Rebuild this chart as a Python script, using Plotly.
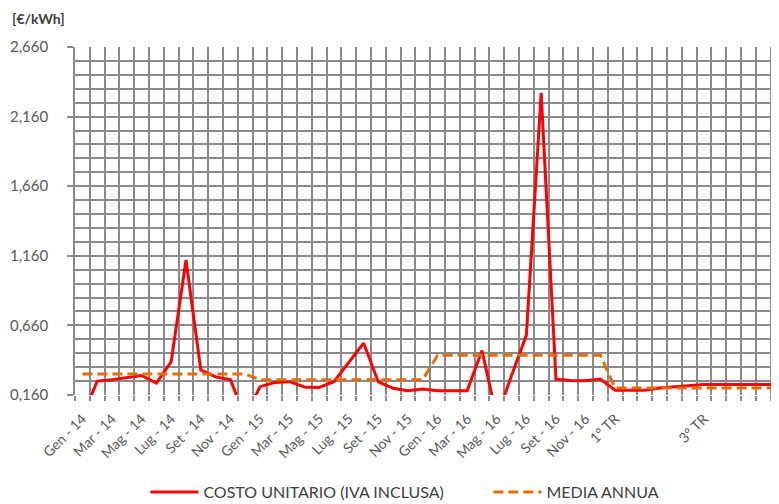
import plotly.graph_objects as go

months = ["Gen", "Feb", "Mar", "Apr", "Mag", "Giu", "Lug", "Ago", "Set", "Ott", "Nov", "Dic"]
categories = [f"{m} - {y}" for y in ("14", "15", "16") for m in months] + [
    "1° TR", "", "", "2° TR", "", "", "3° TR", "", "", "4° TR", "", ""]

costo_unitario = [
    0.00, 0.26, 0.27, 0.285, 0.30, 0.245, 0.40, 1.13, 0.34, 0.29, 0.27, 0.00,
    0.22, 0.25, 0.256, 0.218, 0.214, 0.256, 0.394, 0.533, 0.254, 0.208, 0.19, 0.203,
    0.19, 0.19, 0.19, 0.48, 0.00, 0.30, 0.59, 2.33, 0.273, 0.265, 0.262, 0.275,
    0.195, 0.195, 0.195, 0.21, 0.218, 0.225, 0.235, 0.235, 0.235, 0.235, 0.235, 0.235,
]
media_annua = [0.31] * 12 + [0.27] * 12 + [0.445] * 12 + [0.21] * 12

y_ticks = [0.16, 0.66, 1.16, 1.66, 2.16, 2.66]

x = list(range(len(categories)))
FONT = "Lato"
GRID = "#8a8a8a"
GW = 1.6

fig = go.Figure()
fig.add_trace(go.Scatter(
    x=x, y=costo_unitario, mode="lines", name="COSTO UNITARIO (IVA INCLUSA)",
    line=dict(color="#FF0000", width=3)))
fig.add_trace(go.Scatter(
    x=x, y=media_annua, mode="lines", name="MEDIA ANNUA",
    line=dict(color="#E46C0A", width=3, dash="10px,5px")))

# page body has an 8px margin: figure is shifted by 8px right/down
fig.update_layout(
    width=771, height=496,
    margin=dict(l=67, r=0, t=39, b=109, autoexpand=False),
    paper_bgcolor="white", plot_bgcolor="white",
    separators=",.",
    font=dict(family=FONT, color="#595959", size=13),
    showlegend=True,
    legend=dict(orientation="h", x=0.1, xanchor="left", y=-0.279, yanchor="middle",
                font=dict(family=FONT, size=16, color="#404040"), itemwidth=48,
                entrywidth=280, entrywidthmode="pixels",
                bgcolor="rgba(0,0,0,0)", tracegroupgap=0),
    annotations=[dict(text="<b>[€/kWh]</b>", xref="paper", yref="paper",
                      x=-0.0923, y=1.083, xanchor="left", yanchor="middle",
                      showarrow=False, font=dict(family=FONT, size=14, color="#404040"))],
)

fig.update_xaxes(
    automargin=False,
    range=[-0.5, 47.07], tickmode="array",
    tickvals=x[::2], ticktext=categories[::2], tickangle=-45,
    showgrid=False, ticks="", showline=False, zeroline=False,
    ticklabelstandoff=12,
    tickfont=dict(family=FONT, size=14, color="#595959"),
    minor=dict(tickmode="linear", tick0=-0.5, dtick=1, showgrid=True,
               gridcolor=GRID, gridwidth=GW, ticks="outside", ticklen=5,
               tickcolor=GRID, tickwidth=GW),
)
fig.update_yaxes(
    automargin=False,
    range=[0.16, 2.66], tickmode="array", tickvals=y_ticks, tickformat=".3f",
    showgrid=True, gridcolor=GRID, gridwidth=GW, zeroline=False,
    showline=True, linecolor=GRID, linewidth=GW,
    ticks="outside", ticklen=6, tickcolor=GRID, tickwidth=GW,
    ticklabelstandoff=16,
    tickfont=dict(family=FONT, size=15, color="#595959"),
    minor=dict(tickmode="linear", tick0=0.16, dtick=0.1, showgrid=True,
               gridcolor=GRID, gridwidth=GW),
)

fig.write_html("out.html")
